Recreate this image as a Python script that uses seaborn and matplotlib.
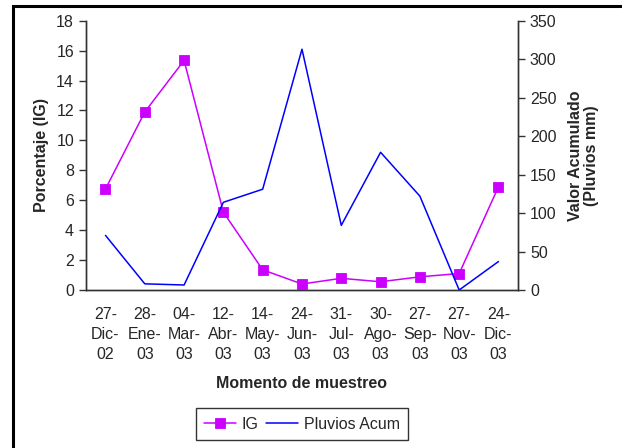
import matplotlib
matplotlib.use("Agg")
import matplotlib.pyplot as plt
import matplotlib.patches as mpatches
import numpy as np
import pandas as pd
import seaborn as sns

fechas = ["27-\nDic-\n02", "28-\nEne-\n03", "04-\nMar-\n03", "12-\nAbr-\n03",
          "14-\nMay-\n03", "24-\nJun-\n03", "31-\nJul-\n03", "30-\nAgo-\n03",
          "27-\nSep-\n03", "27-\nNov-\n03", "24-\nDic-\n03"]
ig = [6.75, 11.9, 15.35, 5.2, 1.35, 0.4, 0.78, 0.55, 0.88, 1.1, 6.9]
pluvios = [71, 8, 6.5, 114, 131, 313, 84, 179, 122, 0, 37]

sns.set_style("white")
plt.rcParams["font.family"] = ["Liberation Sans", "DejaVu Sans"]
plt.rcParams["font.size"] = 11.5

df = pd.DataFrame({"pos": np.arange(len(fechas)), "IG": ig, "Pluvios": pluvios})

fig = plt.figure(figsize=(6.22, 4.48), dpi=100)
ax = fig.add_axes([0.138, 0.3527, 0.695, 0.601])
ax2 = ax.twinx()

sns.lineplot(data=df, x="pos", y="IG", ax=ax, color="#CC00FF", lw=1.1,
             marker="s", markersize=7, markeredgewidth=0.6,
             markeredgecolor="#CC00FF", zorder=3)
sns.lineplot(data=df, x="pos", y="Pluvios", ax=ax2, color="#0000FF", lw=1.1)

ax.set_ylim(0, 18)
ax.set_yticks(np.arange(0, 19, 2))
ax2.set_ylim(0, 350)
ax2.set_yticks(np.arange(0, 351, 50))
ax.set_xlim(-0.5, len(fechas) - 0.5)

ax.set_xticks(np.arange(-0.5, len(fechas), 1))
ax.set_xticklabels([])
ax.set_xticks(np.arange(len(fechas)), minor=True)
ax.set_xticklabels(fechas, minor=True, linespacing=1.45)
ax.tick_params(axis="x", which="major", direction="out", length=5, width=1, color="#333333")
ax.tick_params(axis="x", which="minor", length=0, pad=12, labelsize=11.5)
ax.tick_params(axis="y", direction="out", length=5, width=1, color="#333333", labelsize=11.5)
ax2.tick_params(axis="y", direction="out", length=5, width=1, color="#333333", labelsize=11.5)

for a in (ax, ax2):
    a.spines["top"].set_visible(False)
    for s in ("left", "right", "bottom"):
        a.spines[s].set_color("#333333")
        a.spines[s].set_linewidth(1)

ax.set_xlabel("Momento de muestreo", fontweight="bold", fontsize=11.5, labelpad=10)
ax.set_ylabel("Porcentaje (IG)", fontweight="bold", fontsize=11.5, labelpad=5)
ax2.set_ylabel("Valor Acumulado\n(Pluvios mm)", fontweight="bold", fontsize=11.5,
               labelpad=8, linespacing=1.15)

h1 = ax.get_lines()[0]
h2 = ax2.get_lines()[0]
fig.legend([h1, h2], ["IG", "Pluvios Acum"], loc="center",
           bbox_to_anchor=(302 / 622, 1 - 424 / 448), ncol=2, frameon=True,
           fancybox=False, edgecolor="black", fontsize=11.5, handlelength=2.0,
           columnspacing=0.45, handletextpad=0.35, borderpad=0.55,
           borderaxespad=0)

fig.patches.append(mpatches.Rectangle((13 / 622, -0.1), 1.2, 1.1 - 7 / 448 + 0.002,
                                      transform=fig.transFigure, fill=False,
                                      edgecolor="black", lw=2.2, clip_on=False))

fig.savefig("out.png", dpi=100)
